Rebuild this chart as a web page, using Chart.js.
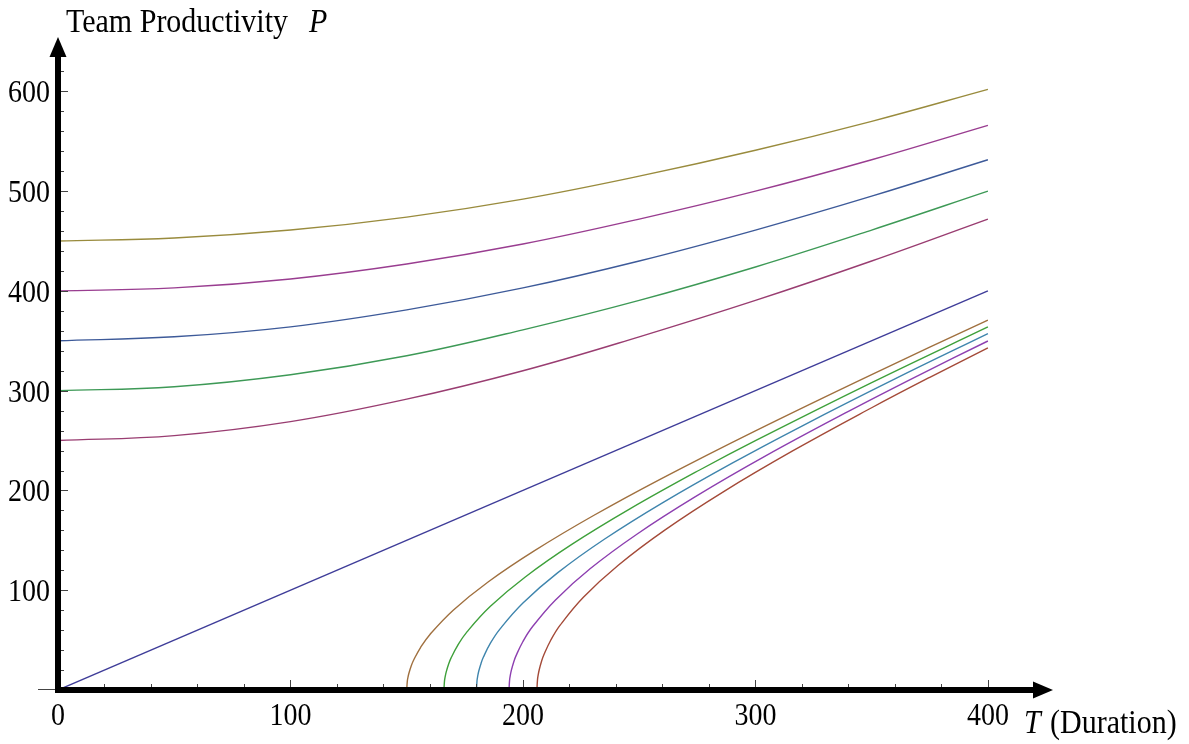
<!DOCTYPE html>
<html>
<head>
<meta charset="utf-8">
<script src="https://cdn.jsdelivr.net/npm/chart.js@4/dist/chart.umd.min.js"></script>
<style>
  html, body { margin: 0; padding: 0; background: #fff; overflow: hidden; }
  #wrap { width: 1189px; height: 744px; position: relative; }
</style>
</head>
<body>
<div id="wrap"><canvas id="chart" width="1189" height="744"></canvas></div>
<script>
// Tick values
const xMajorTicks = [0, 100, 200, 300, 400];
const yMajorTicks = [100, 200, 300, 400, 500, 600];
const xMinorTicks = [20, 40, 60, 80, 120, 140, 160, 180, 220, 240, 260, 280, 320, 340, 360, 380];
const yMinorTicks = [20, 40, 60, 80, 120, 140, 160, 180, 220, 240, 260, 280, 320, 340, 360, 380,
                     420, 440, 460, 480, 520, 540, 560, 580, 620, 640];

const upperT = [0, 50, 100, 150, 200, 250, 300, 350, 400];
const p450 = [450, 453, 461, 474, 492, 515, 541, 570, 602];
const p400 = [400, 403, 412, 427, 447, 472, 500, 531.5, 566];
const p350 = [350, 354, 364, 381, 403, 430, 461, 495, 531.5];
const p300 = [300, 304, 316, 335, 361, 390.5, 424, 461, 500];
const p250 = [250, 255, 269, 291.5, 320, 354, 390.5, 430, 472];

// Straight line through the origin
const lineT = [0, 400];
const lineP = [0, 400];

// Lower curves, each starting on the T axis
const c150T = [150, 150.25, 150.5, 151, 152, 153, 156, 160, 170, 185, 205, 230, 260, 300, 350, 400];
const c150P = [0, 8.7, 12.3, 17.3, 24.6, 30.1, 42.8, 55.7, 80, 108.3, 139.7, 174.4, 212.4, 259.8, 316.2, 370.8];
const c166T = [166, 166.25, 166.5, 167, 168, 169, 172, 176, 186, 201, 221, 246, 276, 300, 350, 400];
const c166P = [0, 9.1, 12.9, 18.2, 25.8, 31.7, 45, 58.5, 83.9, 113.3, 145.9, 181.5, 220.5, 249.9, 308.1, 363.9];
const c180T = [180, 180.25, 180.5, 181, 182, 183, 186, 190, 200, 215, 235, 260, 290, 320, 360, 400];
const c180P = [0, 9.5, 13.4, 19, 26.9, 33, 46.9, 60.8, 87.2, 117.6, 151.1, 187.6, 227.4, 264.6, 311.8, 357.2];
const c194T = [194, 194.25, 194.5, 195, 196, 197, 200, 204, 214, 229, 249, 274, 304, 340, 370, 400];
const c194P = [0, 9.9, 13.9, 19.7, 27.9, 34.2, 48.6, 63.1, 90.3, 121.7, 156.1, 193.5, 234.1, 279.2, 315.1, 349.8];
const c206T = [206, 206.25, 206.5, 207, 208, 209, 212, 216, 226, 241, 261, 286, 316, 350, 375, 400];
const c206P = [0, 10.2, 14.4, 20.3, 28.8, 35.3, 50.1, 65, 93, 125.1, 160.3, 198.4, 239.6, 282.9, 313.4, 342.9];

function pts(xs, ys) {
    return xs.map((x, i) => ({ x: x, y: ys[i] }));
}

function series(xs, ys, color) {
    return {
        data: pts(xs, ys),
        borderColor: color,
        borderWidth: 1.4,
        pointRadius: 0,
        fill: false,
        tension: 0.4
    };
}

const FONT = '"Liberation Serif", "DejaVu Serif", serif';

// text in the reference is a bit taller than plain Times
function drawText(c, str, x, y, font, align, sy) {
    c.save();
    c.font = font;
    c.textAlign = align;
    c.textBaseline = 'alphabetic';
    c.translate(x, y);
    c.scale(1, sy);
    c.fillText(str, 0, 0);
    c.restore();
}

// Draw the thick arrow axes, ticks and labels
const axesPlugin = {
    id: 'arrowAxes',
    afterDraw(chart) {
        const c = chart.ctx;
        const xs = chart.scales.x;
        const ys = chart.scales.y;
        const x0 = xs.getPixelForValue(0);
        const y0 = ys.getPixelForValue(0);
        const xEnd = xs.right;
        const yEnd = ys.top;
        c.save();

        // tick marks
        c.strokeStyle = '#444';
        c.lineWidth = 1;
        c.beginPath();
        xMajorTicks.forEach(v => {
            const px = Math.round(xs.getPixelForValue(v)) + 0.5;
            c.moveTo(px, y0); c.lineTo(px, y0 - 10);
        });
        xMinorTicks.forEach(v => {
            const px = Math.round(xs.getPixelForValue(v)) + 0.5;
            c.moveTo(px, y0); c.lineTo(px, y0 - 6);
        });
        yMajorTicks.forEach(v => {
            const py = Math.round(ys.getPixelForValue(v)) + 0.5;
            c.moveTo(x0, py); c.lineTo(x0 + 10, py);
        });
        yMinorTicks.forEach(v => {
            const py = Math.round(ys.getPixelForValue(v)) + 0.5;
            c.moveTo(x0, py); c.lineTo(x0 + 6, py);
        });
        // small stub left of the origin
        c.moveTo(x0 - 20, Math.round(y0) - 0.5); c.lineTo(x0, Math.round(y0) - 0.5);
        c.stroke();

        // thick axes
        c.strokeStyle = '#000';
        c.fillStyle = '#000';
        c.lineWidth = 6;
        c.lineCap = 'butt';
        c.beginPath();
        c.moveTo(x0 - 3, y0); c.lineTo(xEnd - 18, y0);
        c.moveTo(x0, y0 + 3); c.lineTo(x0, yEnd + 18);
        c.stroke();
        // arrow heads
        c.beginPath();
        c.moveTo(xEnd, y0);
        c.lineTo(xEnd - 20, y0 - 8.5);
        c.lineTo(xEnd - 20, y0 + 8.5);
        c.closePath();
        c.fill();
        c.beginPath();
        c.moveTo(x0, yEnd);
        c.lineTo(x0 - 8.5, yEnd + 20);
        c.lineTo(x0 + 8.5, yEnd + 20);
        c.closePath();
        c.fill();

        // tick labels
        const tickFont = '28px ' + FONT;
        xMajorTicks.forEach(v => {
            drawText(c, String(v), xs.getPixelForValue(v), y0 + 35, tickFont, 'center', 1.14);
        });
        yMajorTicks.forEach(v => {
            drawText(c, String(v), x0 - 8, ys.getPixelForValue(v) + 11, tickFont, 'right', 1.14);
        });

        // axis titles
        drawText(c, 'Team Productivity', 66, 32, '30px ' + FONT, 'left', 1.1);
        drawText(c, 'P', 309, 32, 'italic 30px ' + FONT, 'left', 1.1);
        drawText(c, 'T', 1024, 733, 'italic 30px ' + FONT, 'left', 1.1);
        drawText(c, '(Duration)', 1050, 733, '30px ' + FONT, 'left', 1.1);
        c.restore();
    }
};

new Chart(document.getElementById('chart'), {
    type: 'line',
    data: {
        datasets: [
            series(lineT, lineP, '#3f3d99'),
            series(upperT, p250, '#993d71'),
            series(upperT, p300, '#3d9956'),
            series(upperT, p350, '#3d5a99'),
            series(upperT, p400, '#993d90'),
            series(upperT, p450, '#998b3d'),
            series(c150T, c150P, '#a0703f'),
            series(c166T, c166P, '#3ea03a'),
            series(c180T, c180P, '#3f85ad'),
            series(c194T, c194P, '#8d3fb0'),
            series(c206T, c206P, '#a44a38')
        ]
    },
    plugins: [axesPlugin],
    options: {
        responsive: false,
        animation: false,
        devicePixelRatio: 1,
        layout: { padding: { left: 58, right: 136, top: 37, bottom: 54 } },
        plugins: {
            legend: { display: false },
            tooltip: { enabled: false }
        },
        scales: {
            x: {
                type: 'linear',
                min: 0,
                max: 428,
                display: false
            },
            y: {
                type: 'linear',
                min: 0,
                max: 654.5,
                display: false
            }
        }
    }
});
</script>
</body>
</html>
